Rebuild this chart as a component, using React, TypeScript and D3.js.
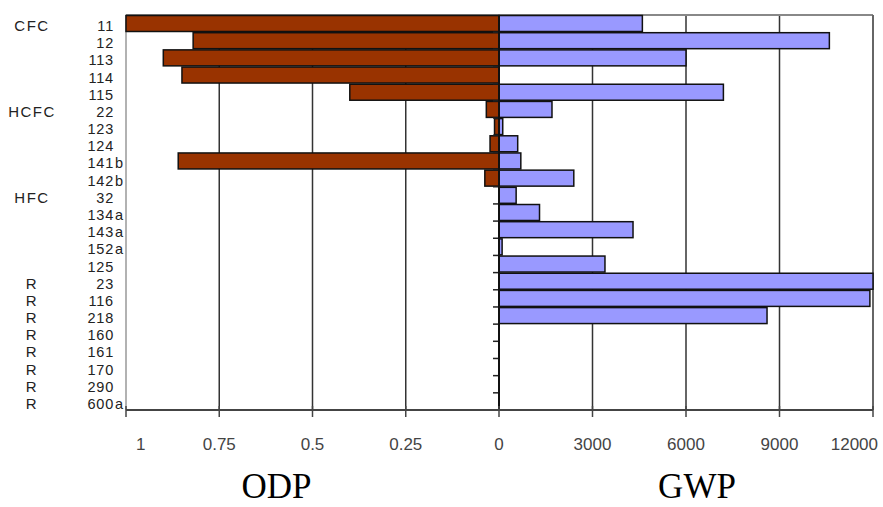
import React from "react";
import * as d3 from "d3";

const categories = ["11","12","113","114","115","22","123","124","141b","142b","32","134a","143a","152a","125","23","116","218","160","161","170","290","600a"];
const groups = ["CFC","","","","","HCFC","","","","","HFC","","","","","R","R","R","R","R","R","R","R"];
const odpValues = [1,0.82,0.9,0.85,0.4,0.034,0.012,0.024,0.86,0.038,0,0,0,0,0,0,0,0,0,0,0,0,0];
const gwpValues = [4600,10600,6000,0,7200,1700,120,600,700,2400,550,1300,4300,100,3400,12000,11900,8600,0,0,0,0,0];
const odpTicks = [1,0.75,0.5,0.25,0];
const odpTickLabels = ["1","0.75","0.5","0.25","0"];
const gwpTicks = [3000,6000,9000,12000];
const gwpTickLabels = ["3000","6000","9000","12000"];
const leftTitle = "ODP";
const rightTitle = "GWP";

const W = 883, H = 507;
const xL = 126, x0 = 499, xR = 873, yTop = 15, yBot = 410;

export default function App() {
  const odp = d3.scaleLinear().domain([0, 1]).range([x0, xL]);
  const gwp = d3.scaleLinear().domain([0, 12000]).range([x0, xR]);
  const y = d3.scaleBand<string>().domain(categories).range([yTop, yBot]).paddingInner(0.07).paddingOuter(0.03);
  const step = (yBot - yTop) / categories.length;
  const sans = "'Liberation Sans', Arial, sans-serif";

  return (
    <svg width={W} height={H} style={{ position: "absolute", left: 0, top: 0, background: "#fff" }}>
      {/* gridlines */}
      {odpTicks.filter(t => t > 0 && t < 1).map(t => (
        <line key={"og" + t} x1={odp(t)} x2={odp(t)} y1={yTop} y2={yBot} stroke="#333" strokeWidth={1.5} />
      ))}
      {gwpTicks.filter(t => t < 12000).map(t => (
        <line key={"gg" + t} x1={gwp(t)} x2={gwp(t)} y1={yTop} y2={yBot} stroke="#333" strokeWidth={1.5} />
      ))}
      {/* frame */}
      <line x1={xL} x2={xR} y1={yTop} y2={yTop} stroke="#888" strokeWidth={2} />
      <line x1={xL} x2={xL} y1={yTop} y2={yBot} stroke="#999" strokeWidth={1.5} />
      <line x1={xR} x2={xR} y1={yTop} y2={yBot} stroke="#666" strokeWidth={2} />
      {/* bars */}
      {categories.map((c, i) => odpValues[i] > 0 ? (
        <rect key={"o" + c} x={odp(odpValues[i])} y={y(c)} width={x0 - odp(odpValues[i])} height={y.bandwidth()}
          fill="#993300" stroke="#111" strokeWidth={1.5} />
      ) : null)}
      {categories.map((c, i) => gwpValues[i] > 0 ? (
        <rect key={"g" + c} x={x0} y={y(c)} width={gwp(gwpValues[i]) - x0} height={y.bandwidth()}
          fill="#9999FF" stroke="#111" strokeWidth={1.5} />
      ) : null)}
      {/* zero axis with category ticks */}
      {categories.map((c, i) => (
        <line key={"ct" + c} x1={x0 - 6} x2={x0} y1={yTop + (i + 1) * step} y2={yTop + (i + 1) * step} stroke="#222" strokeWidth={1.5} />
      ))}
      <line x1={x0} x2={x0} y1={yTop} y2={yBot} stroke="#111" strokeWidth={2} />
      {/* bottom axis */}
      <line x1={xL} x2={xR} y1={yBot} y2={yBot} stroke="#444" strokeWidth={2} />
      {odpTicks.map(t => (
        <line key={"ot" + t} x1={odp(t)} x2={odp(t)} y1={yBot - 4} y2={yBot + 7} stroke="#444" strokeWidth={1.5} />
      ))}
      {gwpTicks.map(t => (
        <line key={"gt" + t} x1={gwp(t)} x2={gwp(t)} y1={yBot - 4} y2={yBot + 7} stroke="#444" strokeWidth={1.5} />
      ))}
      {/* tick labels */}
      {odpTicks.map((t, i) => (
        <text key={"ol" + t} x={odp(t) + (t === 1 ? 10 : 0)} y={450} fontFamily={sans} fontSize={17} fill="#444"
          textAnchor={t === 1 ? "start" : "middle"}>{odpTickLabels[i]}</text>
      ))}
      {gwpTicks.map((t, i) => (
        <text key={"gl" + t} x={gwp(t) + (t === 12000 ? 5 : 0)} y={450} fontFamily={sans} fontSize={17} fill="#444"
          textAnchor={t === 12000 ? "end" : "middle"}>{gwpTickLabels[i]}</text>
      ))}
      {/* category labels */}
      {categories.map(c => {
        const m = c.match(/^(\d+)([a-z]*)$/);
        const num = m ? m[1] : c;
        const suf = m ? m[2] : "";
        const cy = (y(c) as number) + y.bandwidth() / 2 + 7.5;
        return (
          <g key={"cl" + c}>
            <text x={114} y={cy} fontFamily={sans} fontSize={14.5} letterSpacing={0.8} fill="#222" textAnchor="end">{num}</text>
            {suf && <text x={115} y={cy} fontFamily={sans} fontSize={14.5} fill="#222">{suf}</text>}
          </g>
        );
      })}
      {/* group labels */}
      {categories.map((c, i) => groups[i] ? (
        <text key={"gr" + c} x={32} y={(y(c) as number) + y.bandwidth() / 2 + 7.5} fontFamily={sans} fontSize={15}
          fill="#222" textAnchor="middle" letterSpacing={1.5}>{groups[i]}</text>
      ) : null)}
      {/* titles */}
      <text x={(xL + x0) / 2 - 36} y={498} fontFamily="'Liberation Serif', 'Times New Roman', serif" fontSize={35} textAnchor="middle" fill="#000">{leftTitle}</text>
      <text x={(x0 + xR) / 2 + 11} y={498} fontFamily="'Liberation Serif', 'Times New Roman', serif" fontSize={35} textAnchor="middle" fill="#000">{rightTitle}</text>
    </svg>
  );
}
